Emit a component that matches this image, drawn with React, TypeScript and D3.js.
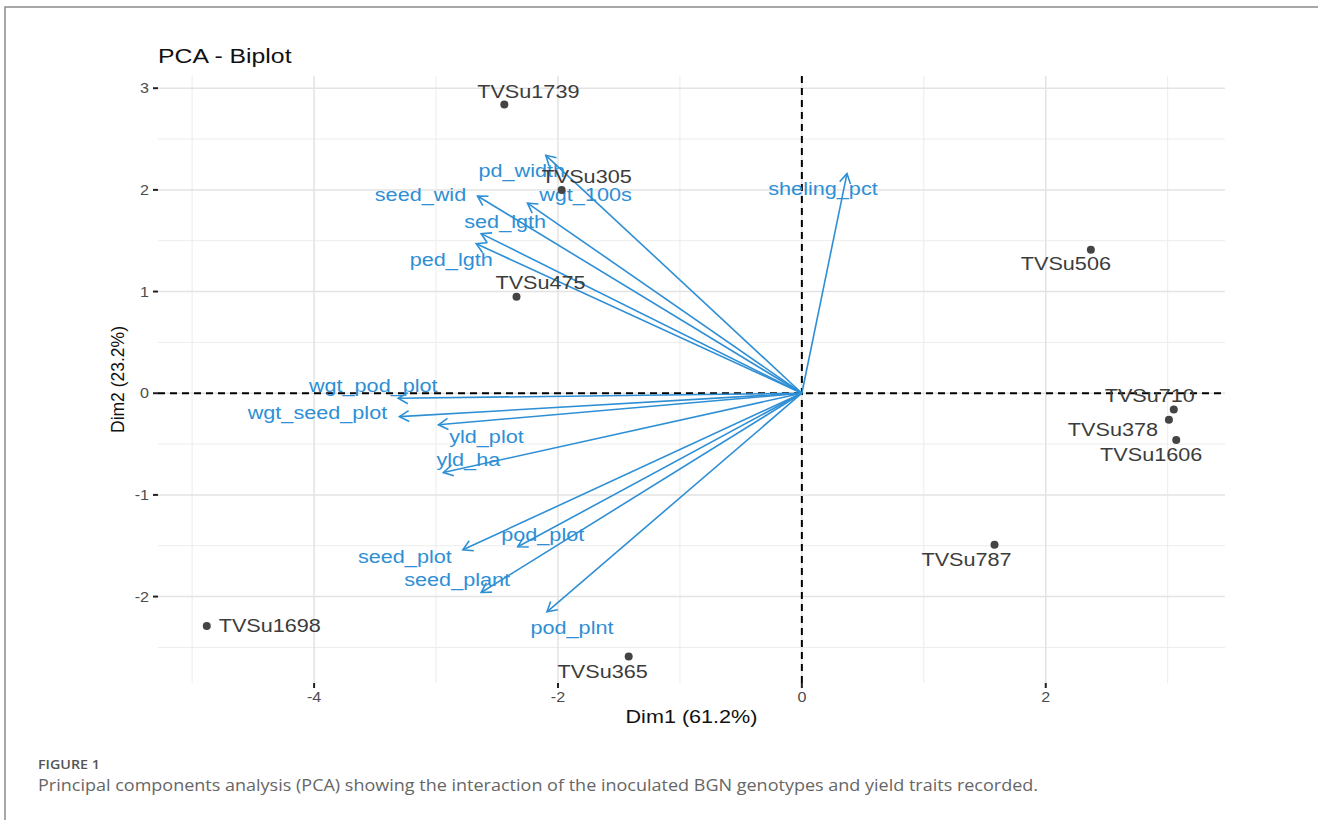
import React from "react";
import * as d3 from "d3";

const individuals = ["TVSu1739", "TVSu305", "TVSu475", "TVSu506", "TVSu710", "TVSu378", "TVSu1606", "TVSu787", "TVSu1698", "TVSu365"];
const indDim1 = [-2.44, -1.97, -2.34, 2.37, 3.05, 3.01, 3.07, 1.58, -4.88, -1.42];
const indDim2 = [2.84, 2.0, 0.95, 1.41, -0.16, -0.26, -0.46, -1.49, -2.29, -2.59];

const variables = ["pd_width", "wgt_100s", "seed_wid", "sed_lgth", "ped_lgth", "sheling_pct", "wgt_pod_plot", "wgt_seed_plot", "yld_plot", "yld_ha", "seed_plot", "pod_plot", "seed_plant", "pod_plnt"];
const varDim1 = [-2.1, -2.25, -2.66, -2.63, -2.67, 0.37, -3.31, -3.3, -2.98, -2.94, -2.78, -2.33, -2.63, -2.09];
const varDim2 = [2.34, 1.87, 1.94, 1.57, 1.47, 2.16, -0.05, -0.23, -0.31, -0.78, -1.54, -1.51, -1.96, -2.15];

const xTicks = [-4, -2, 0, 2];
const yTicks = [-2, -1, 0, 1, 2, 3];
const xMinor = [-5, -3, -1, 1, 3];
const yMinor = [-2.5, -1.5, -0.5, 0.5, 1.5, 2.5];

// label nudges (pixels, repel-like placement)
const indLabelNudge: [number, number][] = [[24, -13], [25, -13], [24, -14], [-25, 14], [-24, -14], [-56, 10], [-25, 15], [-28, 15], [63, 0], [-26, 15]];
const varLabelNudge: [number, number][] = [[-24, 15], [58, -9], [-57, -1], [24, -12], [-25, 16], [-24, 15], [-25, -13], [-82, -4], [48, 12], [25, -13], [-58, 7], [25, -12], [-24, -13], [25, 16]];

const W = 1318, H = 820;
const panel = { left: 158, right: 1225, top: 76, bottom: 683 };
const BLUE = "#2E8FD5";
const DARK = "#3c3c3c";
const FONT = "'Liberation Sans', Arial, sans-serif";
const SX = 1.17;

export default function App() {
  const x = d3.scaleLinear().domain([-5.28, 3.47]).range([panel.left, panel.right]);
  const y = d3.scaleLinear().domain([3.12, -2.85]).range([panel.top, panel.bottom]);
  const x0 = x(0), y0 = y(0);

  const arrowHead = (tx: number, ty: number) => {
    const ang = Math.atan2(ty - y0, tx - x0);
    const L = 11, a = Math.PI / 6;
    const p1 = [tx - L * Math.cos(ang - a), ty - L * Math.sin(ang - a)];
    const p2 = [tx - L * Math.cos(ang + a), ty - L * Math.sin(ang + a)];
    return `M${p1[0]},${p1[1]}L${tx},${ty}L${p2[0]},${p2[1]}`;
  };

  const stretchText = (label: string, cx: number, cy: number, size: number, fill: string, key: string | number, sx = SX, anchor = "middle") => (
    <text key={key} transform={`translate(${cx},${cy}) scale(${sx},1)`} textAnchor={anchor} dominantBaseline="central" fontFamily={FONT} fontSize={size} fill={fill}>{label}</text>
  );

  return (
    <svg width={W} height={H} style={{ position: "absolute", left: 0, top: 0, background: "#fff" }}>
      <rect x={5} y={7} width={W + 10} height={H + 10} fill="none" stroke="#8a8a8a" strokeWidth={1.5} />
      {/* title */}
      <text transform={`translate(${panel.left},63) scale(1.18,1)`} fontFamily={FONT} fontSize={21} fill="#111">PCA - Biplot</text>
      {/* grid */}
      <g>
        {xMinor.map((v) => <line key={"xm" + v} x1={x(v)} x2={x(v)} y1={panel.top} y2={panel.bottom} stroke="#ececec" strokeWidth={1} />)}
        {yMinor.map((v) => <line key={"ym" + v} y1={y(v)} y2={y(v)} x1={panel.left} x2={panel.right} stroke="#ececec" strokeWidth={1} />)}
        {xTicks.map((v) => <line key={"xg" + v} x1={x(v)} x2={x(v)} y1={panel.top} y2={panel.bottom} stroke="#e3e3e3" strokeWidth={1.5} />)}
        {yTicks.map((v) => <line key={"yg" + v} y1={y(v)} y2={y(v)} x1={panel.left} x2={panel.right} stroke="#e3e3e3" strokeWidth={1.5} />)}
      </g>
      {/* axes ticks & labels */}
      <g>
        {xTicks.map((v) => (
          <g key={"xt" + v}>
            <line x1={x(v)} x2={x(v)} y1={panel.bottom} y2={panel.bottom + 5} stroke="#222" strokeWidth={2} />
            {stretchText(String(v), x(v), panel.bottom + 14, 14, "#4d4d4d", "xl" + v, 1.15)}
          </g>
        ))}
        {yTicks.map((v) => (
          <g key={"yt" + v}>
            <line x1={panel.left - 5} x2={panel.left} y1={y(v)} y2={y(v)} stroke="#222" strokeWidth={2} />
            <text transform={`translate(${panel.left - 9},${y(v)}) scale(1.15,1)`} textAnchor="end" dominantBaseline="central" fontFamily={FONT} fontSize={14} fill="#4d4d4d">{v}</text>
          </g>
        ))}
      </g>
      {/* axis titles */}
      <text transform={`translate(${(panel.left + panel.right) / 2},723) scale(1.2,1)`} textAnchor="middle" fontFamily={FONT} fontSize={18} fill="#111">Dim1 (61.2%)</text>
      <text transform={`translate(124,${(panel.top + panel.bottom) / 2}) rotate(-90)`} textAnchor="middle" fontFamily={FONT} fontSize={17.5} fill="#111">Dim2 (23.2%)</text>
      {/* reference dashed lines */}
      <line x1={x0} x2={x0} y1={panel.top} y2={panel.bottom} stroke="#000" strokeWidth={2} strokeDasharray="7,5" />
      <line x1={panel.left} x2={panel.right} y1={y0} y2={y0} stroke="#000" strokeWidth={2} strokeDasharray="7,5" />
      {/* variable arrows */}
      <g>
        {variables.map((v, i) => {
          const tx = x(varDim1[i]), ty = y(varDim2[i]);
          return (
            <g key={"va" + v}>
              <line x1={x0} y1={y0} x2={tx} y2={ty} stroke={BLUE} strokeWidth={1.6} />
              <path d={arrowHead(tx, ty)} fill="none" stroke={BLUE} strokeWidth={1.6} />
            </g>
          );
        })}
        {variables.map((v, i) => stretchText(v, x(varDim1[i]) + varLabelNudge[i][0], y(varDim2[i]) + varLabelNudge[i][1], 18.5, BLUE, "vl" + v))}
      </g>
      {/* individuals */}
      <g>
        {individuals.map((n, i) => <circle key={"ip" + n} cx={x(indDim1[i])} cy={y(indDim2[i])} r={4} fill="#444" />)}
        {individuals.map((n, i) => stretchText(n, x(indDim1[i]) + indLabelNudge[i][0], y(indDim2[i]) + indLabelNudge[i][1], 18.5, DARK, "il" + n))}
      </g>
      {/* caption */}
      <text transform="translate(38,769) scale(1.1,1)" fontFamily="'Open Sans', sans-serif" fontWeight={600} fontSize={13} fill="#555">FIGURE 1</text>
      <text transform="translate(38,791) scale(1.06,1)" fontFamily="'Open Sans', sans-serif" fontWeight={400} fontSize={17} fill="#666">Principal components analysis (PCA) showing the interaction of the inoculated BGN genotypes and yield traits recorded.</text>
    </svg>
  );
}
